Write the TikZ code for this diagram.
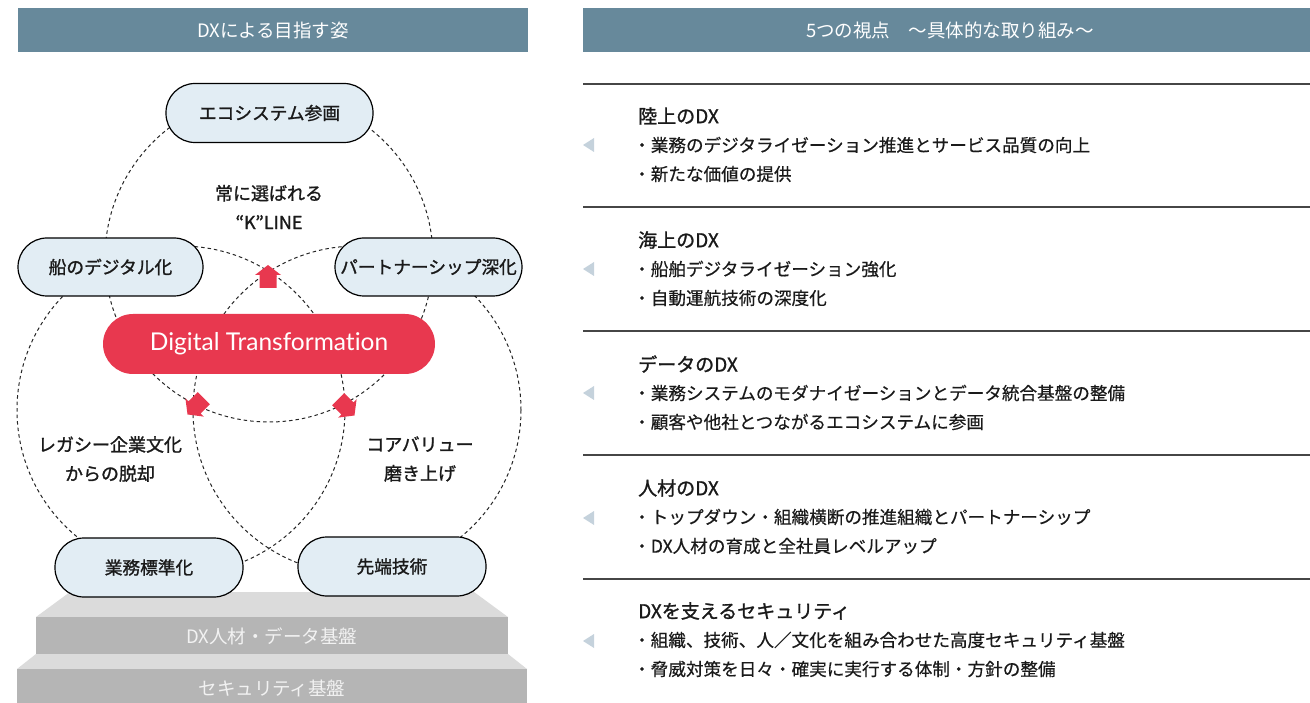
\documentclass[tikz,border=0pt]{standalone}
\usepackage{fontspec}
\newfontfamily\jp{Noto Sans CJK JP}
\newfontfamily\jpm{Noto Sans CJK JP}[FakeBold=1.3]
\newfontfamily\jpl{Noto Sans CJK JP}[FakeBold=0.5]
\newfontfamily\dtfont{Lato}[Ligatures=NoCommon]
\definecolor{hdr}{RGB}{103,137,155}
\definecolor{pillfill}{RGB}{226,237,244}
\definecolor{dxred}{RGB}{232,56,79}
\definecolor{topface}{RGB}{219,219,219}
\definecolor{frontface}{RGB}{181,181,181}
\definecolor{steptext}{RGB}{242,242,242}
\definecolor{rule}{RGB}{70,70,70}
\definecolor{tri}{RGB}{197,210,220}
\definecolor{ink}{RGB}{26,26,26}
\tikzset{
  hdrtext/.style={text=white, font=\jp\fontsize{18.5}{22}\selectfont, inner sep=0},
  pill/.style={draw=black, line width=1.2pt, fill=pillfill, rounded corners=29pt,
    minimum height=59pt, inner sep=0, text=ink, font=\jpm\fontsize{17.7}{20}\selectfont},
  dtpill/.style={fill=dxred, rounded corners=30pt, minimum width=332pt, minimum height=60pt,
    inner sep=0, text=white, font=\dtfont\fontsize{24.5}{28}\selectfont},
  lbl/.style={text=ink, font=\jpm\fontsize{18}{29}\selectfont, align=center, inner sep=0},
  venn/.style={draw=black!85, line width=1pt, dash pattern=on 3.5pt off 3pt},
  dxarrow/.style={fill=dxred},
  steplbl/.style={text=steptext, font=\jp\fontsize{18.5}{22}\selectfont, inner sep=0},
  sechead/.style={anchor=west, text=ink, font=\jpm\fontsize{19}{22}\selectfont, inner sep=0},
  secitem/.style={anchor=west, text=ink, font=\jpl\fontsize{17.6}{20}\selectfont, inner sep=0},
  secrule/.style={draw=rule, line width=1.2pt},
  sectri/.style={fill=tri}
}
\begin{document}
\begin{tikzpicture}[x=1pt,y=-1pt]
\useasboundingbox (0,0) rectangle (1310,703);
% headers
\fill[hdr] (18,8) rectangle (528,52);
\node[hdrtext] (h1) at (273,30) {DXによる目指す姿};
\fill[hdr] (583,8) rectangle (1310,52);
\node[hdrtext] (h2) at (950,30) {5つの視点　～具体的な取り組み～};

% steps
\fill[topface] (70,592) -- (474,592) -- (508,617) -- (36,617) -- cycle;
\fill[frontface] (36,617) rectangle (508,654);
\fill[topface] (36,654) -- (508,654) -- (527,669) -- (17,669) -- cycle;
\fill[frontface] (17,669) rectangle (527,703);
\node[steplbl] (s1) at (272,636) {DX人材・データ基盤};
\node[steplbl] (s2) at (272,688) {セキュリティ基盤};

% venn circles
\draw[venn] (269,258) circle[radius=164pt];
\draw[venn] (181,410) circle[radius=164pt];
\draw[venn] (357,410) circle[radius=164pt];

% nodes
\node[pill, minimum width=207pt] (eco) at (269.5,113) {エコシステム参画};
\node[pill, minimum width=185pt, minimum height=58pt] (ship) at (110.5,267) {船のデジタル化};
\node[pill, minimum width=187pt, minimum height=58pt] (part) at (428.5,267) {パートナーシップ深化};
\node[pill, minimum width=188pt] (std) at (149,567.5) {業務標準化};
\node[pill, minimum width=188pt] (tech) at (392,566.5) {先端技術};
\node[dtpill] (dt) at (269,344) {\raisebox{-1.5pt}{Digital Transformation}};

% arrows
\fill[dxarrow, shift={(268,277)}] (0,-12) -- (13,-2) -- (8.5,-2) -- (8.5,11) -- (-8.5,11) -- (-8.5,-2) -- (-13,-2) -- cycle;
\fill[dxarrow, shift={(196,406)}, rotate=135] (0,-12) -- (13,-2) -- (8.5,-2) -- (8.5,11) -- (-8.5,11) -- (-8.5,-2) -- (-13,-2) -- cycle;
\fill[dxarrow, shift={(346,407)}, rotate=-135] (0,-12) -- (13,-2) -- (8.5,-2) -- (8.5,11) -- (-8.5,11) -- (-8.5,-2) -- (-13,-2) -- cycle;

% labels
\node[lbl] (kline) at (269,207) {常に選ばれる\\“K”LINE};
\node[lbl] (legacy) at (110,459) {レガシー企業文化\\からの脱却};
\node[lbl] (core) at (420,459) {コアバリュー\\磨き上げ};

% right panel rules
\draw[secrule] (583,84) -- (1310,84);
\draw[secrule] (583,207) -- (1310,207);
\draw[secrule] (583,331) -- (1310,331);
\draw[secrule] (583,455) -- (1310,455);
\draw[secrule] (583,579) -- (1310,579);

% triangles
\fill[sectri] (583,145) -- (594,138) -- (594,152) -- cycle;
\fill[sectri] (583,269) -- (594,262) -- (594,276) -- cycle;
\fill[sectri] (583,393) -- (594,386) -- (594,400) -- cycle;
\fill[sectri] (583,518) -- (594,511) -- (594,525) -- cycle;
\fill[sectri] (583,641) -- (594,634) -- (594,648) -- cycle;

% sections
\node[sechead] (a0) at (638,116) {陸上のDX};
\node[secitem] (a1) at (633,145) {・業務のデジタライゼーション推進とサービス品質の向上};
\node[secitem] (a2) at (633,174) {・新たな価値の提供};
\node[sechead] (b0) at (638,240) {海上のDX};
\node[secitem] (b1) at (633,269) {・船舶デジタライゼーション強化};
\node[secitem] (b2) at (633,298) {・自動運航技術の深度化};
\node[sechead] (c0) at (638,364) {データのDX};
\node[secitem] (c1) at (633,393) {・業務システムのモダナイゼーションとデータ統合基盤の整備};
\node[secitem] (c2) at (633,422) {・顧客や他社とつながるエコシステムに参画};
\node[sechead] (d0) at (638,488) {人材のDX};
\node[secitem] (d1) at (633,517) {・トップダウン・組織横断の推進組織とパートナーシップ};
\node[secitem] (d2) at (633,546) {・DX人材の育成と全社員レベルアップ};
\node[sechead] (e0) at (638,611) {DXを支えるセキュリティ};
\node[secitem] (e1) at (633,640) {・組織、技術、人／文化を組み合わせた高度セキュリティ基盤};
\node[secitem] (e2) at (633,669) {・脅威対策を日々・確実に実行する体制・方針の整備};
\end{tikzpicture}
\end{document}
